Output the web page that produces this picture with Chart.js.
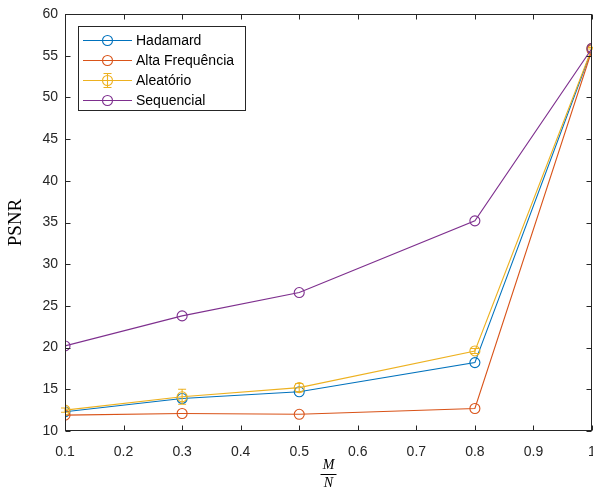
<!DOCTYPE html>
<html>
<head>
<meta charset="utf-8">
<script src="https://cdn.jsdelivr.net/npm/chart.js@4.4.1/dist/chart.umd.min.js"></script>
<style>
  html, body { margin: 0; padding: 0; background: #fff; overflow: hidden; }
  #wrap { width: 600px; height: 488px; }
</style>
</head>
<body>
<div id="wrap"><canvas id="c" width="600" height="488"></canvas></div>
<script>
// M/N sampling ratios
const mn = [0.1, 0.3, 0.5, 0.8, 1.0];
// PSNR for each measurement ordering
const hadamard     = [12.3, 13.9, 14.7, 18.2, 55.8];
const altaFreq     = [11.9, 12.1, 12.0, 12.7, 55.7];
const aleatorio    = [12.5, 14.1, 15.2, 19.6, 55.9];
const aleatorioErr = [0.25, 0.9, 0.5, 0.3, 0.1];
const sequencial   = [20.2, 23.8, 26.6, 35.2, 55.9];
const seriesNames  = ['Hadamard', 'Alta Frequência', 'Aleatório', 'Sequencial'];
const xTicks = [0.1, 0.2, 0.3, 0.4, 0.5, 0.6, 0.7, 0.8, 0.9, 1];
const yTicks = [10, 15, 20, 25, 30, 35, 40, 45, 50, 55, 60];

const colors = ['#0072BD', '#D95319', '#EDB120', '#7E2F8E'];
const axisColor = '#262626';
const sans = '"Liberation Sans", Arial, sans-serif';
const serif = '"Liberation Serif", "Times New Roman", serif';

function pts(ys) { return mn.map((x, i) => ({ x: x, y: ys[i] })); }

function ds(label, ys, color, order) {
  return {
    label: label, data: pts(ys), borderColor: color, backgroundColor: color,
    borderWidth: 1.1, pointRadius: 5, pointHoverRadius: 5, pointBorderWidth: 1.1,
    pointBackgroundColor: 'rgba(0,0,0,0)', pointBorderColor: color,
    tension: 0, order: order
  };
}

// Error bars for the random ordering
const errorBars = {
  id: 'errorBars',
  afterDatasetsDraw(chart) {
    const ctx = chart.ctx, xs = chart.scales.x, ys = chart.scales.y;
    ctx.save();
    ctx.strokeStyle = colors[2];
    ctx.lineWidth = 1.1;
    mn.forEach((x, i) => {
      const px = xs.getPixelForValue(x);
      const top = ys.getPixelForValue(aleatorio[i] + aleatorioErr[i]);
      const bot = ys.getPixelForValue(aleatorio[i] - aleatorioErr[i]);
      ctx.beginPath();
      ctx.moveTo(px, top); ctx.lineTo(px, bot);
      ctx.moveTo(px - 4, top); ctx.lineTo(px + 4, top);
      ctx.moveTo(px - 4, bot); ctx.lineTo(px + 4, bot);
      ctx.stroke();
    });
    ctx.restore();
  }
};

// Axes box with inward ticks, legend, and the fraction axis label
const frame = {
  id: 'frame',
  afterDraw(chart) {
    const ctx = chart.ctx, a = chart.chartArea;
    const xs = chart.scales.x, ys = chart.scales.y;
    const L = Math.round(a.left) + 0.5, R = Math.round(a.right) - 0.5;
    const T = Math.round(a.top) + 0.5, B = Math.round(a.bottom) - 0.5;
    ctx.save();
    ctx.strokeStyle = axisColor;
    ctx.lineWidth = 1;
    ctx.strokeRect(L, T, R - L, B - T);
    const tl = 5;
    ctx.beginPath();
    xTicks.forEach(v => {
      const px = Math.round(xs.getPixelForValue(v)) + 0.5;
      ctx.moveTo(px, B); ctx.lineTo(px, B - tl);
      ctx.moveTo(px, T); ctx.lineTo(px, T + tl);
    });
    yTicks.forEach(v => {
      const py = Math.round(ys.getPixelForValue(v)) + 0.5;
      ctx.moveTo(L, py); ctx.lineTo(L + tl, py);
      ctx.moveTo(R, py); ctx.lineTo(R - tl, py);
    });
    ctx.stroke();

    // legend
    const bx = 78.5, by = 26.5, bw = 167, bh = 84;
    ctx.fillStyle = '#fff';
    ctx.fillRect(bx, by, bw, bh);
    ctx.strokeStyle = axisColor;
    ctx.strokeRect(bx, by, bw, bh);
    const rowY = [40.5, 60.5, 80.5, 100.5];
    ctx.font = '14px ' + sans;
    ctx.textBaseline = 'middle';
    ctx.lineWidth = 1.1;
    seriesNames.forEach((name, i) => {
      const y = rowY[i];
      ctx.strokeStyle = colors[i];
      ctx.beginPath();
      ctx.moveTo(83, y); ctx.lineTo(132, y);
      ctx.stroke();
      ctx.beginPath();
      ctx.arc(107.5, y, 5, 0, Math.PI * 2);
      ctx.stroke();
      if (i === 2) {
        ctx.beginPath();
        ctx.moveTo(107.5, y - 7); ctx.lineTo(107.5, y + 7);
        ctx.moveTo(103.5, y - 7); ctx.lineTo(111.5, y - 7);
        ctx.moveTo(103.5, y + 7); ctx.lineTo(111.5, y + 7);
        ctx.stroke();
      }
      ctx.fillStyle = '#000';
      ctx.fillText(name, 136, y + 0.5);
    });

    // x-axis label: M over N
    const cx = (a.left + a.right) / 2;
    ctx.fillStyle = '#000';
    ctx.font = 'italic 14px ' + serif;
    ctx.textAlign = 'center';
    ctx.textBaseline = 'alphabetic';
    ctx.fillText('M', cx, 469);
    ctx.fillText('N', cx, 487);
    ctx.strokeStyle = '#000';
    ctx.lineWidth = 1;
    ctx.beginPath();
    ctx.moveTo(cx - 8, 474.5); ctx.lineTo(cx + 8, 474.5);
    ctx.stroke();
    ctx.restore();
  }
};

new Chart(document.getElementById('c'), {
  type: 'line',
  data: {
    datasets: [
      ds(seriesNames[0], hadamard, colors[0], 4),
      ds(seriesNames[1], altaFreq, colors[1], 3),
      ds(seriesNames[2], aleatorio, colors[2], 2),
      ds(seriesNames[3], sequencial, colors[3], 1)
    ]
  },
  options: {
    responsive: false,
    animation: false,
    devicePixelRatio: 1,
    layout: { padding: { left: 0, right: 8, top: 14, bottom: 0 } },
    plugins: { legend: { display: false }, tooltip: { enabled: false } },
    scales: {
      x: {
        type: 'linear', min: 0.1, max: 1,
        afterBuildTicks(s) { s.ticks = xTicks.map(v => ({ value: v })); },
        afterFit(s) { s.height = 57; s.paddingLeft = 0; s.paddingRight = 0; },
        grid: { display: false, drawTicks: false },
        border: { display: false },
        ticks: {
          color: axisColor, font: { family: sans, size: 14 }, padding: 13,
          maxRotation: 0, autoSkip: false,
          callback: v => String(Math.round(v * 10) / 10)
        }
      },
      y: {
        type: 'linear', min: 10, max: 60,
        afterBuildTicks(s) { s.ticks = yTicks.map(v => ({ value: v })); },
        afterFit(s) { s.width = 65; s.paddingTop = 0; s.paddingBottom = 0; },
        grid: { display: false, drawTicks: false },
        border: { display: false },
        ticks: { color: axisColor, font: { family: sans, size: 14 }, padding: 7 },
        title: {
          display: true, text: 'PSNR', color: '#000',
          font: { family: serif, size: 19 }, padding: { top: 5, bottom: 0 }
        }
      }
    }
  },
  plugins: [errorBars, frame]
});
</script>
</body>
</html>
